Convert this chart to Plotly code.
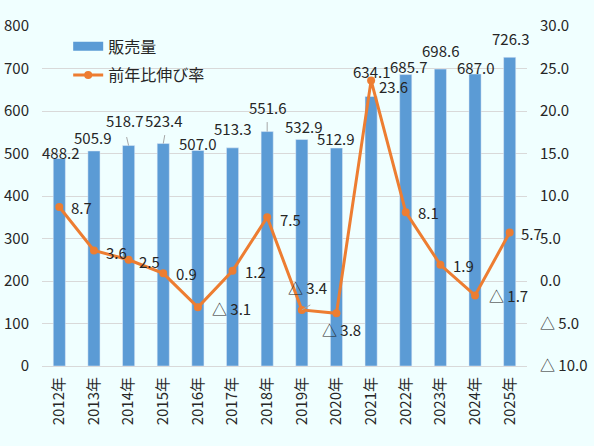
import plotly.graph_objects as go

years = ["2012年", "2013年", "2014年", "2015年", "2016年", "2017年", "2018年",
         "2019年", "2020年", "2021年", "2022年", "2023年", "2024年", "2025年"]
sales = [488.2, 505.9, 518.7, 523.4, 507.0, 513.3, 551.6,
         532.9, 512.9, 634.1, 685.7, 698.6, 687.0, 726.3]
growth = [8.7, 3.6, 2.5, 0.9, -3.1, 1.2, 7.5,
          -3.4, -3.8, 23.6, 8.1, 1.9, -1.7, 5.7]
right_tickvals = [-10, -5, 0, 5, 10, 15, 20, 25, 30]
right_ticktext = ["△ 10.0", "△ 5.0", "0.0", "5.0", "10.0", "15.0", "20.0", "25.0", "30.0"]

# label offsets in pixels (dx, dy up)
bar_off = [(1, 6), (-1, 13.5), (-4, 25.5), (0.5, 23.5), (0, 7.5), (-0.5, 19.5), (0, 24),
           (1.5, 13.5), (-0.5, 10), (0.5, 25.5), (3, 8.5), (0.5, 19), (0, 7), (0.5, 19)]
line_off = [(22, -0.5), (22.5, -2), (21, -1.5), (23, -0.5), (34, -1.5), (22.5, -0.5), (23, -2),
            (6, 22), (5, -16), (22.5, -6), (23, -0.5), (23, -1), (33.5, -0.5), (22, -0.5)]

BLUE = "#5B9BD5"
ORANGE = "#ED7D31"
TXT = "#262626"
BG = "#F0FFFF"
FONT = "Noto Sans CJK JP"


def fmt(v):
    return f"△ {-v:.1f}" if v < 0 else f"{v:.1f}"


fig = go.Figure()

fig.add_trace(go.Bar(x=years, y=sales, marker_color=BLUE, width=0.35,
                     showlegend=False, hoverinfo="skip"))
# legend-only entry so the bar symbol is a wide band like the original
fig.add_trace(go.Scatter(x=[None], y=[None], mode="lines", name="販売量",
                         line=dict(color=BLUE, width=9), legendgroup="a"))
fig.add_trace(go.Scatter(x=years, y=growth, yaxis="y2", mode="lines+markers",
                         name="前年比伸び率", legendgroup="b",
                         line=dict(color=ORANGE, width=3),
                         marker=dict(color=ORANGE, size=8)))

for i, y in enumerate(years):
    dx, dy = bar_off[i]
    fig.add_annotation(x=y, y=sales[i], text=f"{sales[i]:.1f}", showarrow=False,
                       xshift=dx, yshift=dy, font=dict(size=15, color=TXT))
    dx, dy = line_off[i]
    fig.add_annotation(x=y, y=growth[i], yref="y2", text=fmt(growth[i]), showarrow=False,
                       xshift=dx, yshift=dy, font=dict(size=15, color=TXT))

# small leader lines
for idx, ref, vals, (x0, y0) in [(2, "y", sales, (-2, 8.5)), (3, "y", sales, (1.5, 8.5)),
                                  (6, "y", sales, (0, 9.5)), (7, "y2", growth, (8.5, 5))]:
    fig.add_shape(type="line", xref="x", yref=ref, xsizemode="pixel", ysizemode="pixel",
                  xanchor=years[idx], yanchor=vals[idx], x0=x0, y0=y0, x1=0, y1=0,
                  line=dict(color="#A6A6A6", width=1))

fig.update_layout(
    width=594, height=446,
    margin=dict(l=42, r=67, t=26, b=80),
    paper_bgcolor=BG, plot_bgcolor=BG,
    font=dict(family=FONT, size=15, color=TXT),
    legend=dict(x=0.054, y=0.99, xanchor="left", yanchor="top", bgcolor="rgba(0,0,0,0)",
                font=dict(size=16, color=TXT), traceorder="grouped", tracegroupgap=5),
    xaxis=dict(range=[-0.5, 13.5], tickangle=-90, showline=True, linecolor="#D9D9D9",
               ticks="", ticklabelstandoff=4, automargin=False),
    yaxis=dict(range=[0, 800], dtick=100, gridcolor="#D9D9D9", zeroline=False,
               ticklabelstandoff=12, automargin=False),
    yaxis2=dict(range=[-10, 30], overlaying="y", side="right", showgrid=False,
                zeroline=False, tickvals=right_tickvals, ticktext=right_ticktext,
                ticklabelstandoff=12, automargin=False),
)

fig.write_html("out.html", config={"displayModeBar": False},
               post_script="document.body.style.margin='0';"
                           "document.body.style.background='" + BG + "';")
